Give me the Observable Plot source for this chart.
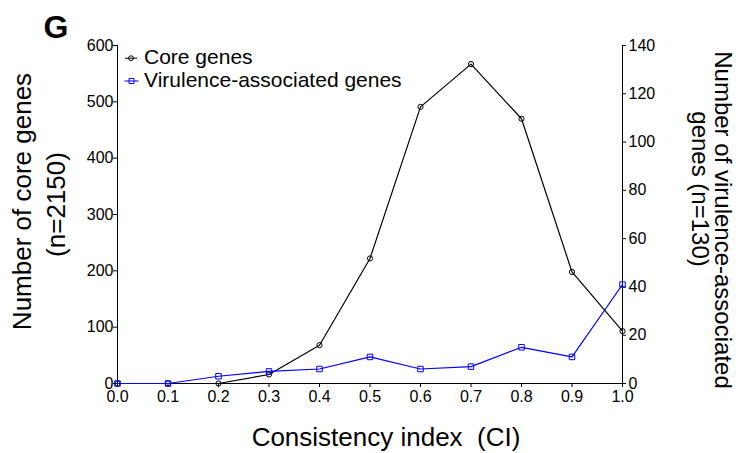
<!DOCTYPE html>
<html>
<head>
<meta charset="utf-8">
<script src="https://cdn.jsdelivr.net/npm/d3@7"></script>
<script src="https://cdn.jsdelivr.net/npm/@observablehq/plot@0.6"></script>
<style>
  html, body { margin: 0; padding: 0; background: #fff; }
  #chart svg { display: block; font-family: "Liberation Sans", Arial, sans-serif; }
</style>
</head>
<body>
<div id="chart"></div>
<script>
// ---- data ----
const ci = [0.0, 0.1, 0.2, 0.3, 0.4, 0.5, 0.6, 0.7, 0.8, 0.9, 1.0];
const coreGenes = [0, 0, 0, 16, 68, 222, 491, 567, 470, 198, 93];
const virulenceGenes = [0, 0, 3, 5, 6, 11, 6, 7, 15, 11, 41];
const coreTicks = [0, 100, 200, 300, 400, 500, 600];
const virTicks = [0, 20, 40, 60, 80, 100, 120, 140];
const seriesNames = ["Core genes", "Virulence-associated genes"];

const coreMax = 600, virMax = 140;
const toLeft = v => v * coreMax / virMax;   // map right-axis values onto the left scale

const data = ci.map((c, i) => ({ci: c, core: coreGenes[i], vir: virulenceGenes[i]}));

const circleLeg = {
  draw(ctx, size) {
    const r = Math.sqrt(size / Math.PI);
    ctx.moveTo(-6, 0); ctx.lineTo(6, 0);
    ctx.moveTo(r, 0); ctx.arc(0, 0, r, 0, 2 * Math.PI);
  }
};
const squareLeg = {
  draw(ctx, size) {
    const s = Math.sqrt(size) / 2;
    ctx.moveTo(-7, 0); ctx.lineTo(7, 0);
    ctx.rect(-s, -s, 2 * s, 2 * s);
  }
};

const blue = "#0000ff";
const fs = 16;

const chart = Plot.plot({
  width: 736,
  height: 453,
  marginLeft: 117,
  marginRight: 114,
  marginTop: 45,
  marginBottom: 70,
  style: {fontFamily: "Liberation Sans, Arial, sans-serif", background: "#fff", color: "#000", overflow: "visible"},
  x: {domain: [0, 1], axis: null},
  y: {domain: [0, coreMax], axis: null},
  marks: [
    // axis lines
    Plot.ruleY([0], {stroke: "#000", strokeWidth: 1}),
    Plot.ruleX([0], {stroke: "#000", strokeWidth: 1}),
    Plot.ruleX([1], {stroke: "#000", strokeWidth: 1}),
    // axes
    Plot.axisX(ci, {anchor: "bottom", tickSize: 4, tickPadding: 3, tickFormat: d3.format(".1f"), fontSize: fs, label: null}),
    Plot.axisY(coreTicks, {anchor: "left", tickSize: 4, tickPadding: 0, fontSize: fs, label: null}),
    Plot.axisY(virTicks.map(toLeft), {anchor: "right", tickSize: 3, tickPadding: 3, fontSize: fs, label: null,
      tickFormat: d => String(Math.round(d * virMax / coreMax))}),
    // series
    Plot.line(data, {x: "ci", y: "core", stroke: "#000", strokeWidth: 1.2}),
    Plot.dot(data, {x: "ci", y: "core", r: 2.6, stroke: "#000", fill: "none", strokeWidth: 1}),
    Plot.line(data, {x: "ci", y: d => toLeft(d.vir), stroke: blue, strokeWidth: 1.2}),
    Plot.dot(data, {x: "ci", y: d => toLeft(d.vir), symbol: "square", r: 3.1, stroke: blue, fill: "none", strokeWidth: 1}),
    // legend
    Plot.dot([seriesNames[0]], {frameAnchor: "top-left", dx: 13.5, dy: 12.7, symbol: circleLeg, r: 2.4, stroke: "#000", fill: "none", strokeWidth: 1}),
    Plot.dot([seriesNames[1]], {frameAnchor: "top-left", dx: 14, dy: 35.5, symbol: squareLeg, r: 2.8, stroke: blue, fill: "none", strokeWidth: 1}),
    Plot.text([seriesNames[0]], {text: d => d, frameAnchor: "top-left", dx: 26.5, dy: 11.5, textAnchor: "start", lineAnchor: "middle", fontSize: 21, fill: "#000"}),
    Plot.text([seriesNames[1]], {text: d => d, frameAnchor: "top-left", dx: 26.5, dy: 34.5, textAnchor: "start", lineAnchor: "middle", fontSize: 21, fill: "#000"}),
    // axis titles
    Plot.text(["Consistency index  (CI)"], {text: d => d, frameAnchor: "bottom", dx: 16, dy: 54, textAnchor: "middle", lineAnchor: "middle", fontSize: 26, fill: "#000"}),
    Plot.text(["Number of core genes"], {text: d => d, frameAnchor: "left", dx: -95, dy: -13, rotate: -90, textAnchor: "middle", lineAnchor: "middle", fontSize: 26, fill: "#000"}),
    Plot.text(["(n=2150)"], {text: d => d, frameAnchor: "left", dx: -61, dy: -10, rotate: -90, textAnchor: "middle", lineAnchor: "middle", fontSize: 26, fill: "#000"}),
    Plot.text(["Number of virulence-associated"], {text: d => d, frameAnchor: "right", dx: 100, dy: 5.5, rotate: 90, textAnchor: "middle", lineAnchor: "middle", fontSize: 24, fill: "#000"}),
    Plot.text(["genes (n=130)"], {text: d => d, frameAnchor: "right", dx: 77, dy: -25.5, rotate: 90, textAnchor: "middle", lineAnchor: "middle", fontSize: 24, fill: "#000"}),
    // panel letter
    Plot.text(["G"], {text: d => d, frameAnchor: "top-left", dx: -74, dy: -18, textAnchor: "start", lineAnchor: "middle", fontSize: 32, fontWeight: "bold", fill: "#000"})
  ]
});
document.getElementById("chart").appendChild(chart);
</script>
</body>
</html>
